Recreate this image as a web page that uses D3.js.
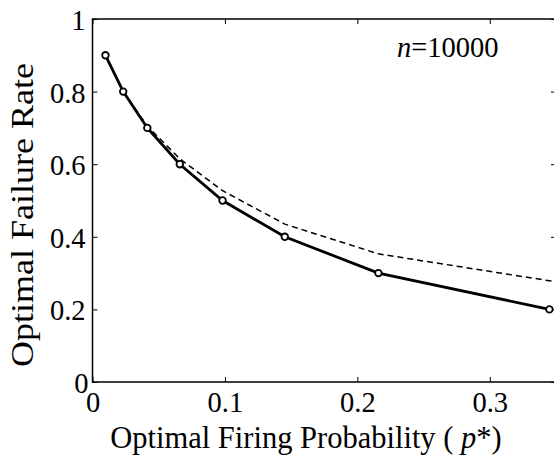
<!DOCTYPE html>
<html><head><meta charset="utf-8">
<script src="https://cdn.jsdelivr.net/npm/d3@7"></script>
<style>body{margin:0;background:#fff}svg{display:block}</style>
</head><body>
<svg id="c" width="554" height="456"></svg>
<script>
const pStar = [0.0098, 0.0232, 0.0414, 0.0659, 0.0982, 0.1452, 0.2159, 0.345];
const failureSolid = [0.9, 0.8, 0.7, 0.6, 0.5, 0.4, 0.3, 0.2];
const pDashed = [0.0098, 0.0232, 0.0414, 0.0659, 0.0982, 0.1452, 0.2159, 0.35];
const failureDashed = [0.9, 0.8, 0.705, 0.615, 0.527, 0.435, 0.353, 0.276];
const xTicks = [0, 0.1, 0.2, 0.3];
const yTicks = [0, 0.2, 0.4, 0.6, 0.8, 1];
const xTickLabels = ["0", "0.1", "0.2", "0.3"];
const yTickLabels = ["0", "0.2", "0.4", "0.6", "0.8", "1"];

const svg = d3.select("#c");
const L = 92.5, R = 556, T = 19, B = 382;
const x = d3.scaleLinear().domain([0, 0.35]).range([L, R]);
const y = d3.scaleLinear().domain([0, 1]).range([B, T]);
const FF = '"Liberation Serif"';

svg.append("rect").attr("x", L).attr("y", T).attr("width", R - L).attr("height", B - T)
  .attr("fill", "none").attr("stroke", "#000").attr("stroke-width", 1.5);

const tl = 5;
const gx = svg.append("g").attr("transform", `translate(0,${B})`)
  .call(d3.axisBottom(x).tickValues(xTicks).tickSizeInner(-tl).tickSizeOuter(0)
    .tickFormat((d, i) => xTickLabels[i]));
gx.select(".domain").remove();
gx.selectAll("line").attr("stroke", "#000");
gx.selectAll("text").style("font-family", FF).style("font-size", "28.5px").attr("fill", "#000")
  .attr("y", 10).attr("dy", "0.71em");

const gxt = svg.append("g").attr("transform", `translate(0,${T})`)
  .call(d3.axisTop(x).tickValues(xTicks).tickSizeInner(-tl).tickSizeOuter(0).tickFormat(""));
gxt.select(".domain").remove();
gxt.selectAll("line").attr("stroke", "#000");

const gy = svg.append("g").attr("transform", `translate(${L},0)`)
  .call(d3.axisLeft(y).tickValues(yTicks).tickSizeInner(-tl).tickSizeOuter(0)
    .tickFormat((d, i) => yTickLabels[i]));
gy.select(".domain").remove();
gy.selectAll("line").attr("stroke", "#000");
gy.selectAll("text").style("font-family", FF).style("font-size", "28.5px").attr("fill", "#000")
  .attr("x", -7).attr("dy", "0.37em");
gy.selectAll(".tick").filter(d => d === 0).select("text").attr("x", -4).attr("dy", "10px");

const gyr = svg.append("g").attr("transform", `translate(${R},0)`)
  .call(d3.axisRight(y).tickValues(yTicks).tickSizeInner(-tl).tickSizeOuter(0).tickFormat(""));
gyr.select(".domain").remove();
gyr.selectAll("line").attr("stroke", "#000");

const dashedData = pDashed.map((p, i) => [p, failureDashed[i]]);
const solidData = pStar.map((p, i) => [p, failureSolid[i]]);
const line = d3.line().x(d => x(d[0])).y(d => y(d[1]));
svg.append("path").attr("d", line(dashedData)).attr("fill", "none").attr("stroke", "#000")
  .attr("stroke-width", 1.5).attr("stroke-dasharray", "6,4");
svg.append("path").attr("d", line(solidData)).attr("fill", "none").attr("stroke", "#000")
  .attr("stroke-width", 2.8);
svg.selectAll("circle.m").data(solidData).enter().append("circle").attr("class", "m")
  .attr("cx", d => x(d[0])).attr("cy", d => y(d[1])).attr("r", 3.3)
  .attr("fill", "#fff").attr("stroke", "#000").attr("stroke-width", 1.8);

const ann = svg.append("text").attr("x", 397).attr("y", 57).style("font-family", FF)
  .style("font-size", "28.5px").attr("fill", "#000");
ann.append("tspan").style("font-style", "italic").text("n");
ann.append("tspan").text("=10000");

const xl = svg.append("text").attr("x", 306).attr("y", 448).attr("text-anchor", "middle")
  .style("font-family", FF).style("font-size", "30.5px").attr("fill", "#000");
xl.append("tspan").text("Optimal Firing Probability ( ");
xl.append("tspan").style("font-style", "italic").text("p");
xl.append("tspan").text("*)");

svg.append("text").attr("transform", `translate(33,215) rotate(-90)`)
  .attr("text-anchor", "middle").style("font-family", FF).style("font-size", "32px").attr("fill", "#000")
  .attr("textLength", 304).attr("lengthAdjust", "spacingAndGlyphs")
  .text("Optimal Failure Rate");
</script>
</body></html>
